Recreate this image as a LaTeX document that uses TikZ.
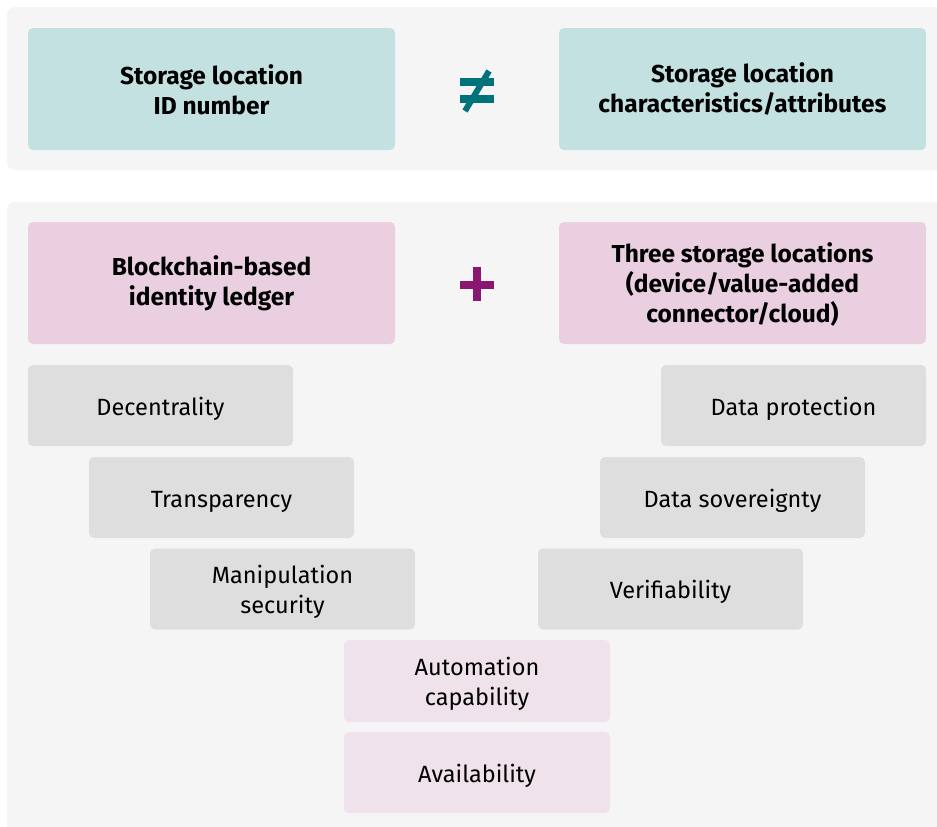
\documentclass[tikz,border=0pt]{standalone}
\usepackage{fontspec}
\setmainfont{Fira Sans}
\definecolor{panelbg}{HTML}{F5F5F5}
\definecolor{tealbox}{HTML}{C3E1E1}
\definecolor{pinkbox}{HTML}{EACFE1}
\definecolor{greybox}{HTML}{DEDEDE}
\definecolor{lightpink}{HTML}{EFE2EB}
\definecolor{tealsym}{HTML}{00737A}
\definecolor{plumsym}{HTML}{8B1672}
\tikzset{
  panel/.style={fill=panelbg, rounded corners=8pt},
  % an invisible strut taller than the text block sets it slightly below the box centre
  lowered/.style={execute at begin node={\rule{0pt}{#1}}},
  headbox/.style={rounded corners=5pt, minimum width=367pt, minimum height=122pt,
    align=center, inner sep=0pt, lowered=50.5pt, font=\fontsize{24.5}{30}\selectfont\bfseries},
  idbox/.style={headbox, fill=tealbox},
  keybox/.style={headbox, fill=pinkbox},
  propbox/.style={rounded corners=5pt, minimum width=265pt, minimum height=81pt,
    align=center, inner sep=0pt, lowered=24pt, fill=greybox, font=\fontsize{23.5}{30}\selectfont},
  twoline/.style={lowered=53.5pt},
  sharedbox/.style={propbox, minimum width=266pt, fill=lightpink},
}
\begin{document}
\begin{tikzpicture}[x=1pt, y=-1pt]
  \useasboundingbox (0,0) rectangle (937,827);
  \clip (0,0) rectangle (937,827);
  \fill[white] (0,0) rectangle (937,827);
  % background panels
  \fill[panel] (7,7) rectangle (960,170);
  \fill[panel] (7,202) rectangle (960,860);

  % upper panel: identifier vs. attributes
  \node[idbox] (idnum) at (211.5,89) {Storage location\\ID number};
  \node[idbox] (attrs) at (742.5,89) {Storage location\\characteristics/attributes};
  \coordinate (neq) at (477,92);
  \fill[tealsym] ([shift={(-17,-14)}]neq) rectangle ([shift={(17,-6)}]neq);
  \fill[tealsym] ([shift={(-17,3)}]neq) rectangle ([shift={(17,11)}]neq);
  \draw[tealsym, line width=6pt] ([shift={(-12,19)}]neq) -- ([shift={(12,-21)}]neq);

  % lower panel: ledger plus storage locations
  \node[keybox] (ledger) at (211.5,283) {Blockchain-based\\identity ledger};
  \node[keybox, lowered=83pt] (locs) at (742.5,283) {Three storage locations\\(device/value-added\\connector/cloud)};
  \coordinate (plus) at (477,285);
  \fill[plumsym] ([shift={(-17,-4)}]plus) rectangle ([shift={(17,4)}]plus);
  \fill[plumsym] ([shift={(-4,-18)}]plus) rectangle ([shift={(4,16)}]plus);

  % properties of the ledger
  \node[propbox] (decent) at (160.5,405.5) {Decentrality};
  \node[propbox] (transp) at (221.5,497.5) {Transparency};
  \node[propbox, twoline] (manip) at (282.5,589) {Manipulation\\security};

  % properties of the storage locations
  \node[propbox] (protect) at (793.5,405.5) {Data protection};
  \node[propbox] (sovereign) at (732.5,497.5) {Data sovereignty};
  \node[propbox] (verify) at (670.5,589) {Verifiability};

  % shared properties
  \node[sharedbox, twoline, minimum height=82pt] (auto) at (477,681) {Automation\\capability};
  \node[sharedbox] (avail) at (477,772.5) {Availability};
\end{tikzpicture}
\end{document}
